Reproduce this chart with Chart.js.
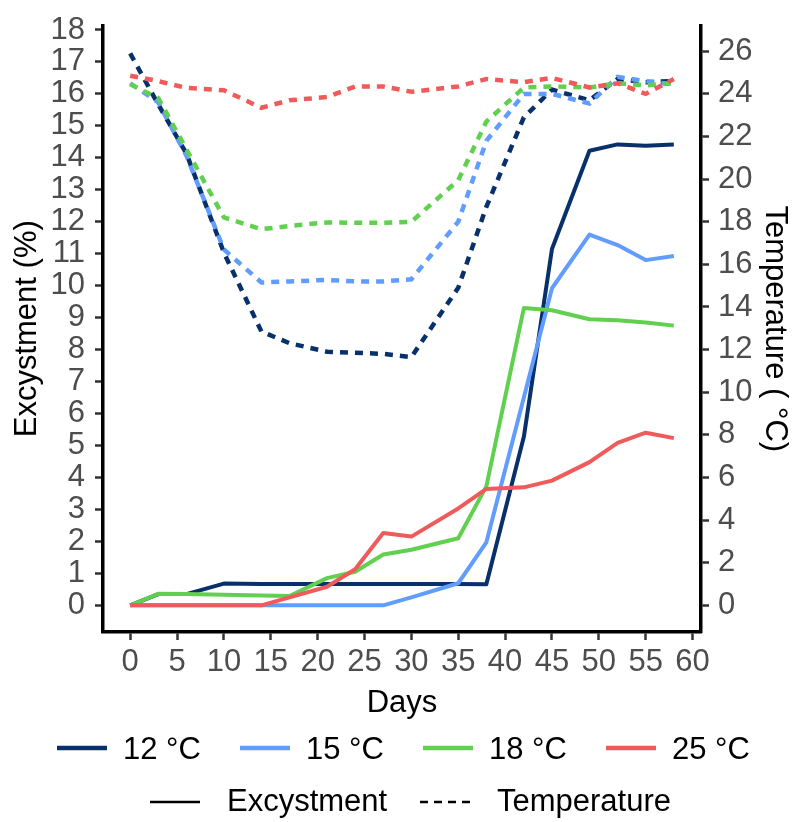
<!DOCTYPE html>
<html>
<head>
<meta charset="utf-8">
<script src="https://cdn.jsdelivr.net/npm/chart.js"></script>
<style>
  html, body { margin: 0; padding: 0; background: #ffffff; overflow: hidden; }
  #wrap { position: relative; width: 798px; height: 822px; }
</style>
</head>
<body>
<div id="wrap"><canvas id="chart"></canvas></div>
<script>
// ---------------- data ----------------
const days = [0, 3, 6, 10, 14, 17, 21, 24, 27, 30, 35, 38, 42, 45, 49, 52, 55, 58];

const excystment12 = [0, 0.35, 0.35, 0.68, 0.67, 0.67, 0.67, 0.67, 0.67, 0.67, 0.67, 0.66, 5.27, 11.15, 14.22, 14.42, 14.38, 14.42];
const excystment15 = [0, 0, 0, 0, 0, 0, 0, 0, 0, 0.25, 0.69, 1.97, 6.5, 9.92, 11.6, 11.27, 10.8, 10.93];
const excystment18 = [0, 0.36, 0.35, 0.33, 0.31, 0.29, 0.85, 1.05, 1.59, 1.74, 2.1, 3.72, 9.3, 9.23, 8.95, 8.92, 8.85, 8.75];
const excystment25 = [0, 0, 0, 0, 0, 0.25, 0.58, 1.13, 2.26, 2.15, 3.03, 3.64, 3.69, 3.9, 4.48, 5.08, 5.4, 5.23];

const temperature12 = [25.9, 23.5, 21.2, 16.55, 12.85, 12.3, 11.9, 11.85, 11.8, 11.65, 14.9, 18.7, 22.9, 24.2, 23.7, 24.7, 24.55, 24.6];
const temperature15 = [24.5, 23.6, 21.1, 16.7, 15.15, 15.2, 15.27, 15.2, 15.2, 15.3, 18.0, 21.8, 24.0, 24.0, 23.55, 24.8, 24.6, 24.45];
const temperature18 = [24.45, 23.8, 21.4, 18.2, 17.65, 17.8, 17.97, 17.95, 17.95, 18.0, 19.95, 22.7, 24.3, 24.35, 24.3, 24.5, 24.4, 24.5];
const temperature25 = [24.85, 24.6, 24.28, 24.17, 23.35, 23.7, 23.85, 24.35, 24.35, 24.1, 24.35, 24.7, 24.55, 24.75, 24.3, 24.5, 24.0, 24.7];

const seriesLabels = ['12 °C', '15 °C', '18 °C', '25 °C'];
const lineTypeLabels = ['Excystment', 'Temperature'];

const xTicks = [0, 5, 10, 15, 20, 25, 30, 35, 40, 45, 50, 55, 60];
const yTicks = [0, 1, 2, 3, 4, 5, 6, 7, 8, 9, 10, 11, 12, 13, 14, 15, 16, 17, 18];
const y2Ticks = [0, 2, 4, 6, 8, 10, 12, 14, 16, 18, 20, 22, 24, 26];

// ---------------- style ----------------
const seriesColors = ['#08306B', '#619CFF', '#61D04F', '#EF5B5B'];
const FONT = '"Liberation Sans", Arial, Helvetica, sans-serif';
const TICK_GRAY = '#4D4D4D';

const excystmentSeries = [excystment12, excystment15, excystment18, excystment25];
const temperatureSeries = [temperature12, temperature15, temperature18, temperature25];

const toXY = vals => days.map((d, i) => ({ x: d, y: vals[i] }));

const datasets = [];
excystmentSeries.forEach((vals, i) => {
  datasets.push({
    label: seriesLabels[i] + ' ' + lineTypeLabels[0],
    data: toXY(vals),
    yAxisID: 'y',
    borderColor: seriesColors[i],
    backgroundColor: seriesColors[i],
    borderWidth: 4,
    borderJoinStyle: 'round',
    pointRadius: 0,
    tension: 0,
    fill: false,
    order: 10 - i
  });
});
temperatureSeries.forEach((vals, i) => {
  datasets.push({
    label: seriesLabels[i] + ' ' + lineTypeLabels[1],
    data: toXY(vals),
    yAxisID: 'y2',
    borderColor: seriesColors[i],
    backgroundColor: seriesColors[i],
    borderWidth: 4.5,
    borderDash: [8, 7],
    pointRadius: 0,
    tension: 0,
    fill: false,
    order: 20 - i
  });
});

const legendPlugin = {
  id: 'customLegend',
  afterDraw(chart) {
    const ctx = chart.ctx;
    ctx.save();
    ctx.font = '31px ' + FONT;
    ctx.textBaseline = 'middle';
    ctx.textAlign = 'left';
    ctx.fillStyle = '#000000';
    ctx.lineCap = 'butt';
    // row 1: temperature treatments
    seriesLabels.forEach((lab, i) => {
      const x0 = 57 + i * 183;
      ctx.strokeStyle = seriesColors[i];
      ctx.lineWidth = 4.5;
      ctx.setLineDash([]);
      ctx.beginPath();
      ctx.moveTo(x0, 748);
      ctx.lineTo(x0 + 50, 748);
      ctx.stroke();
      ctx.fillText(lab, x0 + 66, 750);
    });
    // row 2: line types
    const row2 = [{ x: 150, dash: [] }, { x: 420, dash: [8, 6] }];
    lineTypeLabels.forEach((lab, i) => {
      const x0 = row2[i].x;
      ctx.strokeStyle = '#000000';
      ctx.lineWidth = 2.5;
      ctx.setLineDash(row2[i].dash);
      ctx.beginPath();
      ctx.moveTo(x0, 802);
      ctx.lineTo(x0 + 50, 802);
      ctx.stroke();
      ctx.setLineDash([]);
      ctx.fillText(lab, x0 + 77, 802);
    });
    ctx.restore();
  }
};

const tickFont = { family: FONT, size: 31, lineHeight: 1 };
const titleFont = { family: FONT, size: 31, lineHeight: 1.2 };
const gridOpts = { drawOnChartArea: false, drawTicks: true, tickLength: 8, tickColor: '#333333', tickWidth: 2.5, color: '#333333' };
const borderOpts = { display: true, color: '#000000', width: 3.5 };

new Chart(document.getElementById('chart'), {
  type: 'line',
  data: { datasets },
  plugins: [legendPlugin],
  options: {
    responsive: true,
    maintainAspectRatio: false,
    animation: false,
    layout: { padding: { top: 17, left: 0, right: 0, bottom: 0 } },
    plugins: { legend: { display: false }, tooltip: { enabled: false } },
    scales: {
      x: {
        type: 'linear',
        position: 'bottom',
        min: -2.9,
        max: 60.9,
        afterBuildTicks: s => { s.ticks = xTicks.map(v => ({ value: v })); },
        afterFit: s => { s.height = 190; },
        ticks: { font: tickFont, color: TICK_GRAY, padding: 7, autoSkip: false, maxRotation: 0, minRotation: 0 },
        grid: gridOpts,
        border: borderOpts,
        title: { display: true, text: 'Days', font: titleFont, color: '#000000', padding: { top: 0, bottom: 100.4 } }
      },
      y: {
        type: 'linear',
        position: 'left',
        min: -0.835,
        max: 18.14,
        afterBuildTicks: s => { s.ticks = yTicks.map(v => ({ value: v })); },
        afterFit: s => { s.width = 103; },
        ticks: { font: tickFont, color: TICK_GRAY, padding: 10, autoSkip: false },
        grid: gridOpts,
        border: borderOpts,
        title: { display: true, text: 'Excystment (%)', font: titleFont, color: '#000000', padding: { top: 8.4, bottom: 0 } }
      },
      y2: {
        type: 'linear',
        position: 'right',
        min: -1.2525,
        max: 27.21,
        afterBuildTicks: s => { s.ticks = y2Ticks.map(v => ({ value: v })); },
        afterFit: s => { s.width = 97; },
        ticks: { font: tickFont, color: TICK_GRAY, padding: 9, autoSkip: false },
        grid: gridOpts,
        border: borderOpts,
        title: { display: true, text: 'Temperature ( °C)', font: titleFont, color: '#000000', padding: { top: 4.4, bottom: 0 } }
      }
    }
  }
});
</script>
</body>
</html>
